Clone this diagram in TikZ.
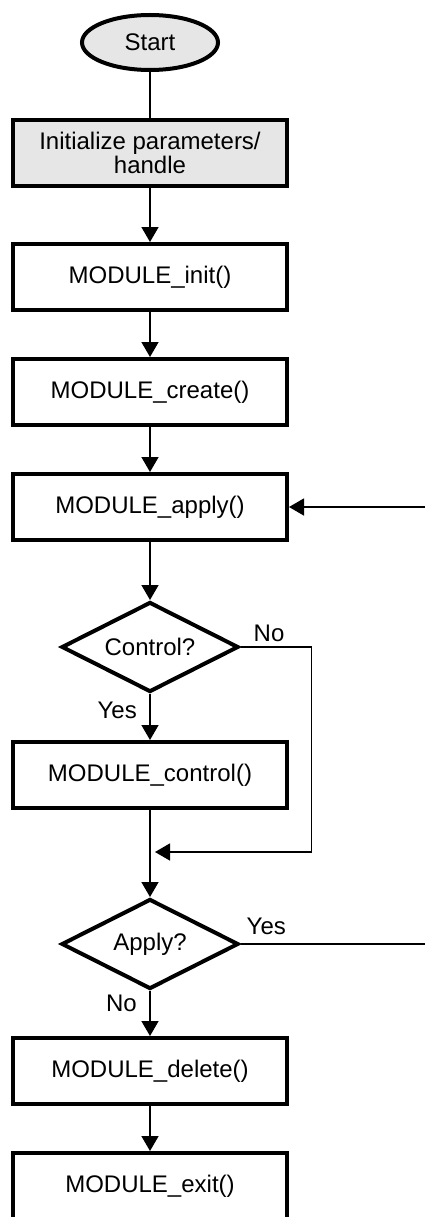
\documentclass[tikz,border=0pt]{standalone}
\usepackage{fontspec}
\setmainfont{Liberation Sans}
\usetikzlibrary{positioning,arrows.meta,shapes.geometric}
\definecolor{shade}{HTML}{E6E6E6}

\begin{document}
\begin{tikzpicture}[x=1pt,y=-1pt,font=\fontsize{24}{24}\selectfont,
  box/.style={draw,line width=4pt,minimum width=274pt,minimum height=66pt,align=center,inner sep=0pt},
  term/.style={draw,ellipse,line width=4pt,fill=shade,minimum width=136pt,minimum height=55pt,inner sep=0pt},
  ask/.style={draw,diamond,aspect=2,line width=4pt,minimum width=177pt,minimum height=90pt,inner sep=0pt},
  tag/.style={inner sep=0pt,font=\fontsize{24}{24}\selectfont},
  wire/.style={line width=1.5pt},
  flow/.style={wire,-{Triangle[length=15pt,width=17pt]}}]
\useasboundingbox (0,0) rectangle (425,1217);
\clip (0,0) rectangle (425,1217);
% main column
\node[term] (start) at (150,42.5) {Start};
\node[box,fill=shade,below=46pt of start] (init) {Initialize parameters/\\handle};
\node[box,below=54pt of init] (minit) {MODULE\_init()};
\node[box,below=45pt of minit] (mcre) {MODULE\_create()};
\node[box,below=45pt of mcre] (mapp) {MODULE\_apply()};
\node[ask,below=58pt of mapp] (ctl) {Control?};
\node[box,below=46pt of ctl] (mctl) {MODULE\_control()};
\node[ask,below=87pt of mctl] (app) {Apply?};
\node[box,below=45pt of app] (mdel) {MODULE\_delete()};
\node[box,below=45pt of mdel] (mexit) {MODULE\_exit()};
% branch labels
\node[tag,above right=5pt and 13pt of ctl.east] (ctlno) {No};
\node[tag,below left=8pt and 13pt of ctl.south] (ctlyes) {Yes};
\node[tag,above right=9pt and 6pt of app.east] (appyes) {Yes};
\node[tag,below left=4pt and 13pt of app.south] (appno) {No};
% loose ends at the right margin
\coordinate[below=42pt of mctl.south] (join);
\coordinate[right=140pt of mapp.east] (back);
\coordinate[right=190pt of app.east] (again);

\draw[wire] (start) -- (init);
\draw[flow] (init) -- (minit);
\draw[flow] (minit) -- (mcre);
\draw[flow] (mcre) -- (mapp);
\draw[flow] (mapp) -- (ctl);
\draw[flow] (ctl) -- (mctl);
\draw[flow] (mctl) -- (app);
\draw[flow] (app) -- (mdel);
\draw[flow] (mdel) -- (mexit);
\draw[flow,shorten >=5pt] (ctl.east) -- ++(71,0) |- (join);
\draw[flow] (back) -- (mapp.east);
\draw[wire] (app.east) -- (again);
\end{tikzpicture}
\end{document}
